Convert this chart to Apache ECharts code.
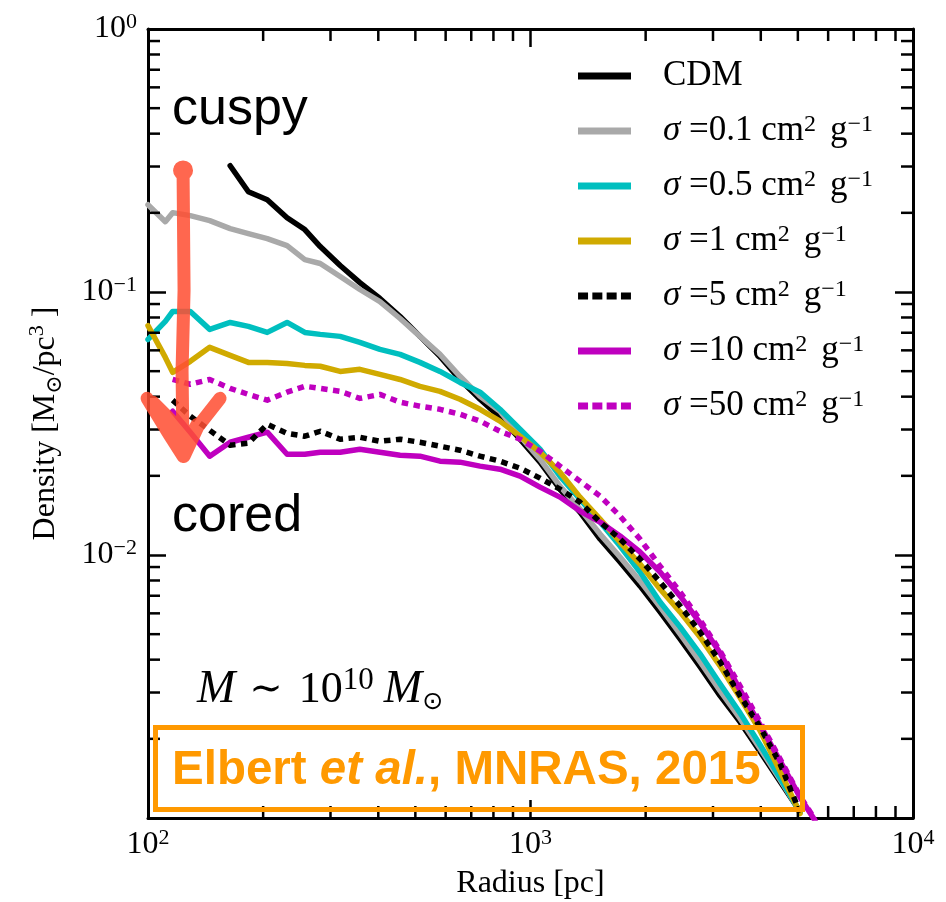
<!DOCTYPE html>
<html><head><meta charset="utf-8">
<script src="https://cdn.jsdelivr.net/npm/echarts@6/dist/echarts.min.js"></script>
<style>html,body{margin:0;padding:0;background:#fff}#c{width:946px;height:902px}</style>
</head><body><div id="c"></div>
<script>
// ---------------- data ----------------
const radius = [100, 111, 116, 129, 145, 164, 183, 205, 231, 257, 282, 318, 358, 404, 456, 514, 580, 654, 738, 832, 939, 1059, 1194, 1347, 1520, 1714, 1933, 2181, 2460, 2774, 3129, 3529, 3981, 4491, 5066, 5543];
const cdm     = [null, null, null, null, null, 0.302, 0.2406, 0.2244, 0.1917, 0.1727, 0.1488, 0.1261, 0.1086, 0.0945, 0.0807, 0.0678, 0.0569, 0.0465, 0.0391, 0.0334, 0.02756, 0.02254, 0.0178, 0.01456, 0.0115, 0.00941, 0.00763, 0.00608, 0.0048, 0.00376, 0.00292, 0.00232, 0.00179, 0.001376, 0.001058, null];
const sig01   = [0.2148, 0.1851, 0.2003, 0.1951, 0.1867, 0.1742, 0.1667, 0.1596, 0.1501, 0.1328, 0.1283, 0.1145, 0.1022, 0.092, 0.0793, 0.0678, 0.0579, 0.0478, 0.0401, 0.0352, 0.02829, 0.02313, 0.01827, 0.01495, 0.01201, 0.00983, 0.00797, 0.00635, 0.00501, 0.00393, 0.00305, 0.00239, 0.00184, 0.0014, 0.001058, null];
const sig05   = [0.066, 0.0773, 0.0843, 0.0843, 0.0721, 0.0766, 0.074, 0.0702, 0.0766, 0.0702, 0.069, 0.0678, 0.0643, 0.0605, 0.0579, 0.054, 0.0499, 0.0453, 0.0416, 0.0358, 0.0301, 0.02525, 0.01994, 0.01631, 0.01334, 0.01082, 0.00862, 0.00663, 0.00533, 0.00421, 0.00324, 0.00251, 0.0019, 0.00142, 0.00105, null];
const sig1    = [0.0745, 0.0564, 0.0495, 0.0545, 0.0616, 0.0574, 0.054, 0.054, 0.0535, 0.0526, 0.0522, 0.0499, 0.0508, 0.0486, 0.0465, 0.0438, 0.0419, 0.0391, 0.0358, 0.0323, 0.02829, 0.02459, 0.02065, 0.0166, 0.0137, 0.0112, 0.00924, 0.00743, 0.00608, 0.00488, 0.00379, 0.00287, 0.00215, 0.00151, 0.00104, null];
const sig5    = [null, null, 0.0388, 0.0337, 0.0298, 0.02615, 0.02661, 0.0314, 0.029, 0.02829, 0.02955, 0.02756, 0.02804, 0.02707, 0.02756, 0.02684, 0.02592, 0.02503, 0.02375, 0.02274, 0.02139, 0.0196, 0.0178, 0.01589, 0.01334, 0.0115, 0.00966, 0.0079, 0.00641, 0.0051, 0.00393, 0.00292, 0.00222, 0.00161, 0.00105, null];
const sig10   = [null, null, 0.0352, 0.0293, 0.02375, 0.02684, 0.02804, 0.0293, 0.02416, 0.02416, 0.02459, 0.02459, 0.02525, 0.02459, 0.02396, 0.02375, 0.02274, 0.02254, 0.02177, 0.0212, 0.01994, 0.01812, 0.0166, 0.01469, 0.01334, 0.01181, 0.01027, 0.00862, 0.00699, 0.00552, 0.00425, 0.00307, 0.00226, 0.00165, 0.0012, 0.000978];
const sig50   = [null, null, 0.0465, 0.0446, 0.0465, 0.043, 0.0408, 0.0388, 0.0416, 0.0438, 0.043, 0.0419, 0.0394, 0.0408, 0.0381, 0.0368, 0.0358, 0.0343, 0.0323, 0.02955, 0.02756, 0.02481, 0.02177, 0.01909, 0.01675, 0.01406, 0.0115, 0.00908, 0.00724, 0.00567, 0.00432, 0.00318, 0.00232, 0.00168, 0.00121, 0.000987];

const seriesNames = ['CDM', 'σ=0.1', 'σ=0.5', 'σ=1', 'σ=5', 'σ=10', 'σ=50'];
const sigmaText   = [null, '0.1', '0.5', '1', '5', '10', '50'];
const seriesValues = [cdm, sig01, sig05, sig1, sig5, sig10, sig50];

const xRange = [100, 10000];
const yRange = [0.001, 1];
const xMinorTicks = [200, 300, 400, 500, 600, 700, 800, 900, 2000, 3000, 4000, 5000, 6000, 7000, 8000, 9000];
const yMinorTicks = [0.002, 0.003, 0.004, 0.005, 0.006, 0.007, 0.008, 0.009, 0.02, 0.03, 0.04, 0.05, 0.06, 0.07, 0.08, 0.09, 0.2, 0.3, 0.4, 0.5, 0.6, 0.7, 0.8, 0.9];

// arrow annotation anchor (data space): radius, top density, tip density
const arrowAnchor = [123.5, 0.29, 0.0227];

// ---------------- styling ----------------
const SERIF = '"Liberation Serif", "DejaVu Serif", serif';
const SANS = '"Liberation Sans", Arial, sans-serif';
const styles = [
  {color: '#000000', dash: null, z: 2},
  {color: '#a9a9a9', dash: null, z: 3},
  {color: '#00bfbf', dash: null, z: 4},
  {color: '#d0aa00', dash: null, z: 5},
  {color: '#000000', dash: [6.5, 5.5], z: 7},
  {color: '#bf00bf', dash: null, z: 6},
  {color: '#bf00bf', dash: [6.5, 5.5], z: 8}
];
const dotIcon = 'path://M0,0h10v7h-10z M14.3,0h10v7h-10z M28.6,0h10v7h-10z M42.9,0h10v7h-10z';

function powLabel(v) {
  const e = Math.round(Math.log10(v));
  return '{b|10}{s|' + (e < 0 ? '−' + (-e) : e) + '}';
}
const labelRich = {
  b: {fontFamily: SERIF, fontSize: 32, lineHeight: 36, color: '#000'},
  s: {fontFamily: SERIF, fontSize: 22, lineHeight: 22, verticalAlign: 'top', color: '#000'}
};

const lineSeries = seriesNames.map((name, k) => ({
  name: name,
  type: 'line',
  xAxisIndex: 0, yAxisIndex: 0,
  data: radius.map((r, i) => [r, seriesValues[k][i]]).filter(p => p[1] != null),
  symbol: 'none',
  z: styles[k].z,
  clip: true,
  lineStyle: {color: styles[k].color, width: 5.5, type: styles[k].dash || 'solid', cap: styles[k].dash ? 'butt' : 'round', join: 'round'},
  itemStyle: {color: styles[k].color},
  emphasis: {disabled: true}
}));

const tickLine = (x1, y1, x2, y2) => ({type: 'line', shape: {x1, y1, x2, y2}, style: {stroke: '#000', lineWidth: 2.5}});

const minorX = {
  type: 'custom', name: 'xminor', xAxisIndex: 0, yAxisIndex: 0, silent: true, clip: false, z: 20,
  data: xMinorTicks.map(v => [v, 0.01]),
  renderItem: (params, api) => {
    const v = api.value(0);
    const b = api.coord([v, yRange[0]]), t = api.coord([v, yRange[1]]);
    return {type: 'group', children: [tickLine(b[0], b[1], b[0], b[1] - 12), tickLine(t[0], t[1], t[0], t[1] + 12)]};
  }
};
const minorY = {
  type: 'custom', name: 'yminor', xAxisIndex: 0, yAxisIndex: 0, silent: true, clip: false, z: 20,
  data: yMinorTicks.map(v => [1000, v]),
  renderItem: (params, api) => {
    const v = api.value(1);
    const l = api.coord([xRange[0], v]), r = api.coord([xRange[1], v]);
    return {type: 'group', children: [tickLine(l[0], l[1], l[0] + 12, l[1]), tickLine(r[0], r[1], r[0] - 12, r[1])]};
  }
};
const arrowSeries = {
  type: 'custom', name: 'arrow', xAxisIndex: 0, yAxisIndex: 0, silent: true, clip: false, z: 50,
  data: [arrowAnchor],
  encode: {x: 0, y: [1, 2]},
  renderItem: (params, api) => {
    const top = api.coord([api.value(0), api.value(1)]);
    const tip = api.coord([api.value(0), api.value(2)]);
    const tx = tip[0], ty = tip[1] - 5;
    const d = [
      'M' + top[0] + ',' + top[1] + ' L' + (top[0] + 1) + ',' + (top[1] + 120) + ' L' + (top[0] - 1) + ',' + (top[1] + 200) + ' L' + tx + ',' + ty,
      'M' + (tx - 36) + ',' + (ty - 58) + ' L' + (tx - 14) + ',' + (ty - 22) + ' L' + tx + ',' + ty,
      'M' + (tx + 37) + ',' + (ty - 58) + ' L' + (tx + 15) + ',' + (ty - 30) + ' L' + (tx + 1) + ',' + ty,
      'M' + (tx - 24) + ',' + (ty - 42) + ' L' + tx + ',' + (ty - 6) + ' L' + (tx + 14) + ',' + (ty - 32),
      'M' + (tx - 30) + ',' + (ty - 54) + ' L' + (tx - 6) + ',' + (ty - 30),
      'M' + (top[0] - 3.5) + ',' + top[1] + ' a3.5,3.5 0 1,0 7,0 a3.5,3.5 0 1,0 -7,0'
    ].join(' ');
    return {type: 'path', shape: {pathData: d},
      style: {fill: 'none', stroke: 'rgba(255,78,50,0.86)', lineWidth: 13, lineCap: 'round', lineJoin: 'round'}};
  }
};

const axisCommon = {
  type: 'log', logBase: 10,
  axisLine: {show: true, onZero: false, lineStyle: {color: '#000', width: 3}},
  axisTick: {show: true, inside: true, length: 18, lineStyle: {color: '#000', width: 2.5}},
  splitLine: {show: false},
  minorTick: {show: false},
  minorSplitLine: {show: false}
};

const chart = echarts.init(document.getElementById('c'), null, {renderer: 'canvas'});
chart.setOption({
  animation: false,
  backgroundColor: '#fff',
  grid: {left: 148, right: 33, top: 29, bottom: 84, containLabel: false, outerBoundsMode: 'none'},
  xAxis: [
    Object.assign({}, axisCommon, {
      position: 'bottom', min: xRange[0], max: xRange[1],
      axisLabel: {formatter: powLabel, margin: 9, rich: labelRich},
      name: 'Radius [pc]', nameLocation: 'middle', nameGap: 42,
      nameTextStyle: {fontFamily: SERIF, fontSize: 32, color: '#000', lineHeight: 36}
    }),
    Object.assign({}, axisCommon, {position: 'top', min: xRange[0], max: xRange[1], axisLabel: {show: false}})
  ],
  yAxis: [
    Object.assign({}, axisCommon, {
      position: 'left', min: yRange[0], max: yRange[1],
      axisLabel: {formatter: v => (v < 0.0015 ? '' : powLabel(v)), margin: 11, rich: labelRich},
      name: '{n|Density [M}{sub|⊙}{n|/pc}{sup|3}{n| ]}', nameLocation: 'middle', nameRotate: 90, nameGap: 82,
      nameTextStyle: {
        fontFamily: SERIF, fontSize: 32, color: '#000', lineHeight: 40,
        rich: {
          n: {fontFamily: SERIF, fontSize: 32, lineHeight: 40, color: '#000'},
          sub: {fontFamily: SERIF, fontSize: 22, lineHeight: 22, verticalAlign: 'bottom', color: '#000'},
          sup: {fontFamily: SERIF, fontSize: 22, lineHeight: 22, verticalAlign: 'top', color: '#000'}
        }
      }
    }),
    Object.assign({}, axisCommon, {position: 'right', min: yRange[0], max: yRange[1], axisLabel: {show: false}})
  ],
  legend: {
    data: seriesNames.map((n, k) => ({name: n, icon: styles[k].dash ? dotIcon : 'rect'})),
    orient: 'vertical', left: 573, top: 53,
    itemWidth: 53, itemHeight: 7, itemGap: 19,
    selectedMode: false,
    itemStyle: {borderWidth: 0},
    formatter: name => {
      const k = seriesNames.indexOf(name);
      if (k === 0) return '{n|CDM}';
      return '{i|σ}{n| =' + sigmaText[k] + ' cm}{s|2}{g|g}{s|−1}';
    },
    textStyle: {
      fontFamily: SERIF, fontSize: 35, color: '#000', lineHeight: 36, padding: [0, 0, 0, 27],
      rich: {
        n: {fontFamily: SERIF, fontSize: 35, lineHeight: 36, color: '#000'},
        g: {fontFamily: SERIF, fontSize: 35, lineHeight: 36, color: '#000', padding: [0, 0, 0, 14]},
        i: {fontFamily: SERIF, fontSize: 35, lineHeight: 36, fontStyle: 'italic', color: '#000'},
        s: {fontFamily: SERIF, fontSize: 24, lineHeight: 22, verticalAlign: 'top', color: '#000'}
      }
    }
  },
  graphic: [
    {type: 'text', z: 100, x: 172, y: 110,
     style: {text: 'cuspy', fill: '#000', font: '52px ' + SANS, align: 'left', verticalAlign: 'middle', textAlign: 'left', textVerticalAlign: 'middle'}},
    {type: 'text', z: 100, x: 172, y: 517,
     style: {text: 'cored', fill: '#000', font: '52px ' + SANS, align: 'left', verticalAlign: 'middle', textAlign: 'left', textVerticalAlign: 'middle'}},
    {type: 'text', z: 100, x: 197, y: 690,
     style: {
       text: '{i|M}{op|∼}{n|10}{s|10}{i2|M}{sub|⊙}',
       align: 'left', verticalAlign: 'middle', textAlign: 'left', textVerticalAlign: 'middle',
       rich: {
         i: {fontFamily: SERIF, fontSize: 46, fontStyle: 'italic', lineHeight: 50, fill: '#000'},
         op: {fontFamily: SERIF, fontSize: 40, lineHeight: 50, padding: [0, 16, 0, 14], fill: '#000'},
         n: {fontFamily: SERIF, fontSize: 44, lineHeight: 50, fill: '#000'},
         s: {fontFamily: SERIF, fontSize: 31, lineHeight: 30, verticalAlign: 'top', fill: '#000'},
         i2: {fontFamily: SERIF, fontSize: 46, fontStyle: 'italic', lineHeight: 50, padding: [0, 0, 0, 10], fill: '#000'},
         sub: {fontFamily: '"DejaVu Sans", sans-serif', fontSize: 25, lineHeight: 24, verticalAlign: 'bottom', fill: '#000'}
       }
     }},
    {type: 'rect', z: 100, shape: {x: 155.5, y: 727.5, width: 647, height: 82},
     style: {fill: 'none', stroke: '#ff9900', lineWidth: 5}},
    {type: 'text', z: 100, x: 172, y: 771,
     style: {
       text: '{b|Elbert }{bi|et al.}{b|, MNRAS, 2015}',
       align: 'left', verticalAlign: 'middle', textAlign: 'left', textVerticalAlign: 'middle',
       rich: {
         b: {fontFamily: SANS, fontSize: 47.5, fontWeight: 'bold', fill: '#ff9900', lineHeight: 50},
         bi: {fontFamily: SANS, fontSize: 47.5, fontWeight: 'bold', fontStyle: 'italic', fill: '#ff9900', lineHeight: 50}
       }
     }}
  ],
  series: lineSeries.concat([minorX, minorY, arrowSeries])
});
</script>
</body></html>
